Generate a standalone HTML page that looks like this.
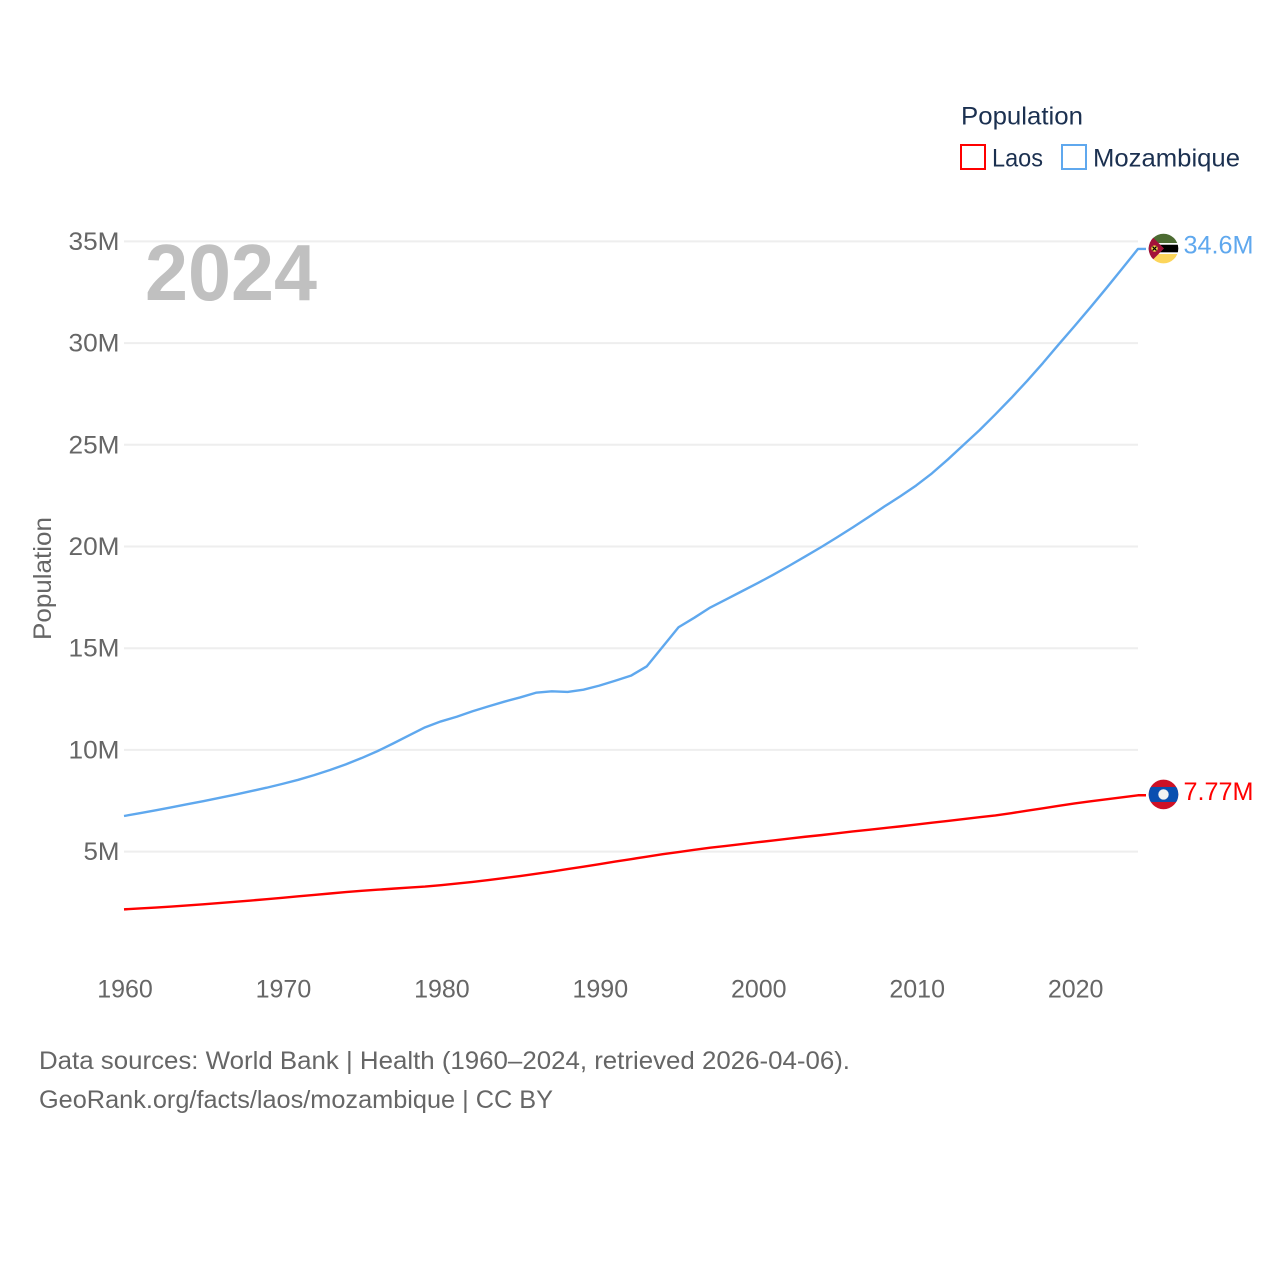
<!DOCTYPE html>
<html lang="en">
<head>
<meta charset="utf-8">
<title>Population: Laos and Mozambique</title>
<style>
html,body{margin:0;padding:0;background:#fff;}
svg{display:block;font-family:"Liberation Sans",sans-serif;}
</style>
</head>
<body>
<svg id="chart" xmlns="http://www.w3.org/2000/svg" width="1280" height="1280" viewBox="0 0 1280 1280">
  <rect x="0" y="0" width="1280" height="1280" fill="#ffffff"/>
  <g id="grid"></g>
  <g id="y-ticks"></g>
  <g id="x-ticks"></g>
  <text x="145" y="300" font-size="80" font-weight="700" fill="#c0c0c0" textLength="172" lengthAdjust="spacingAndGlyphs">2024</text>
  <text transform="translate(51,640) rotate(-90)" font-size="25" fill="#666666" textLength="123" lengthAdjust="spacingAndGlyphs">Population</text>
  <g id="series"></g>
  <g id="end-markers"></g>

  <g>
    <text x="961" y="124.5" font-size="25" fill="#1b3050" textLength="122" lengthAdjust="spacingAndGlyphs">Population</text>
    <g>
      <rect x="961" y="145" width="24" height="24" fill="none" stroke="#ff0000" stroke-width="2"/>
      <text x="992" y="166.5" font-size="25" fill="#1b3050" textLength="51" lengthAdjust="spacingAndGlyphs">Laos</text>
    </g>
    <g>
      <rect x="1062" y="145" width="24" height="24" fill="none" stroke="#5fa8ee" stroke-width="2"/>
      <text x="1093" y="166.5" font-size="25" fill="#1b3050" textLength="147" lengthAdjust="spacingAndGlyphs">Mozambique</text>
    </g>
  </g>

  <g>
    <text x="39" y="1069" font-size="25" fill="#666666" textLength="811" lengthAdjust="spacingAndGlyphs">Data sources: World Bank | Health (1960–2024, retrieved 2026-04-06).</text>
    <text x="39" y="1108" font-size="25" fill="#666666" textLength="514" lengthAdjust="spacingAndGlyphs">GeoRank.org/facts/laos/mozambique | CC BY</text>
  </g>
</svg>
<script>
const firstYear = 1960;
const xTickYears = [1960, 1970, 1980, 1990, 2000, 2010, 2020];
const yTickValues = [5, 10, 15, 20, 25, 30, 35];
const laosValues = [2.16, 2.205, 2.25, 2.30, 2.355, 2.41, 2.47, 2.53, 2.595, 2.66,
  2.73, 2.80, 2.87, 2.94, 3.01, 3.07, 3.125, 3.18, 3.23, 3.28,
  3.35, 3.43, 3.51, 3.60, 3.70, 3.80, 3.91, 4.02, 4.14, 4.26,
  4.38, 4.51, 4.63, 4.75, 4.87, 4.98, 5.09, 5.19, 5.28, 5.37,
  5.46, 5.55, 5.64, 5.73, 5.81, 5.90, 5.99, 6.07, 6.16, 6.24,
  6.33, 6.42, 6.51, 6.60, 6.69, 6.78, 6.89, 7.01, 7.13, 7.25,
  7.37, 7.47, 7.57, 7.67, 7.77];
const mozambiqueValues = [6.75, 6.89, 7.03, 7.18, 7.33, 7.48, 7.64, 7.80, 7.97, 8.14,
  8.33, 8.53, 8.76, 9.01, 9.29, 9.60, 9.94, 10.32, 10.72, 11.11,
  11.40, 11.63, 11.90, 12.14, 12.37, 12.58, 12.81, 12.88, 12.85, 12.96,
  13.16, 13.40, 13.65, 14.11, 15.07, 16.03, 16.50, 17.00, 17.40, 17.80,
  18.20, 18.62, 19.06, 19.51, 19.97, 20.45, 20.94, 21.45, 21.97, 22.47,
  23.00, 23.60, 24.28, 25.00, 25.72, 26.50, 27.30, 28.14, 29.02, 29.94,
  30.84, 31.76, 32.70, 33.66, 34.63];

const NS = 'http://www.w3.org/2000/svg';
const plotLeft = 124, plotRight = 1138, lastYear = 2024;
const zeroY = 953.3, pxPerMillion = 20.34;
function xScale(year) { return plotLeft + (year - firstYear) * (plotRight - plotLeft) / (lastYear - firstYear); }
function yScale(value) { return zeroY - value * pxPerMillion; }
function svgEl(tag, attrs, parent) {
  const el = document.createElementNS(NS, tag);
  for (const k in attrs) el.setAttribute(k, attrs[k]);
  parent.appendChild(el);
  return el;
}

const grid = document.getElementById('grid');
const yTicks = document.getElementById('y-ticks');
yTickValues.forEach(function (v) {
  const line = svgEl('line', { x1: plotLeft, x2: plotRight, y1: yScale(v), y2: yScale(v), stroke: '#eeeeee', 'stroke-width': 2 }, grid);
  
  
  const label = svgEl('text', { x: 119.5, y: yScale(v) + 8.5, 'text-anchor': 'end', 'font-size': 25, fill: '#666666' }, yTicks);
  label.textContent = v + 'M';
  label.setAttribute('textLength', v < 10 ? 36 : 51);
  label.setAttribute('lengthAdjust', 'spacingAndGlyphs');
  
  
});

const xTicks = document.getElementById('x-ticks');
xTickYears.forEach(function (y) {
  const label = svgEl('text', { x: xScale(y) + 1, y: 997.5, 'text-anchor': 'middle', 'font-size': 25, fill: '#666666' }, xTicks);
  label.textContent = String(y);
  
  
});

const seriesGroup = document.getElementById('series');
const markerGroup = document.getElementById('end-markers');

function drawSeries(values, color, slug) {
  let d = '';
  values.forEach(function (v, i) {
    d += (i ? 'L' : 'M') + xScale(firstYear + i).toFixed(2) + ' ' + yScale(v).toFixed(2);
  });
  const lastY = yScale(values[values.length - 1]);
  d += 'L' + (plotRight + 8) + ' ' + lastY.toFixed(2);
  const path = svgEl('path', { d: d, fill: 'none', stroke: color, 'stroke-width': 2.4, 'stroke-linejoin': 'round' }, seriesGroup);
  
  
  const label = svgEl('text', { x: 1253.5, y: lastY + 4.8, 'text-anchor': 'end', 'font-size': 25, fill: color, textLength: 70, lengthAdjust: 'spacingAndGlyphs' }, markerGroup);
  label.textContent = values[values.length - 1].toPrecision(3) + 'M';
  
  
  return lastY;
}

let clipCount = 0;
function flagGroup(cy, slug) {
  const id = 'flag-clip-' + (clipCount++);
  const clip = svgEl('clipPath', { id: id }, markerGroup);
  svgEl('circle', { cx: 1163.5, cy: cy, r: 14.8 }, clip);
  const g = svgEl('g', { 'clip-path': 'url(#' + id + ')' }, markerGroup);
  
  
  return g;
}

const laosY = drawSeries(laosValues, '#ff0000', 'laos');
const mozY = drawSeries(mozambiqueValues, '#5fa8ee', 'mozambique');

const laosFlag = flagGroup(laosY - 0.8, 'laos');
const lc = laosY - 0.8;
svgEl('rect', { x: 1148, y: lc - 16, width: 32, height: 32, fill: '#ce1126' }, laosFlag);
svgEl('rect', { x: 1148, y: lc - 7.5, width: 32, height: 15, fill: '#0a4fb0' }, laosFlag);
svgEl('circle', { cx: 1163.5, cy: lc, r: 5.2, fill: '#f2f2f2' }, laosFlag);

const mozFlag = flagGroup(mozY - 0.4, 'mozambique');
const mc = mozY - 0.4;
svgEl('rect', { x: 1148, y: mc - 16, width: 32, height: 32, fill: '#ffffff' }, mozFlag);
svgEl('rect', { x: 1148, y: mc - 16, width: 32, height: 10.5, fill: '#4c6b32' }, mozFlag);
svgEl('rect', { x: 1148, y: mc - 3.8, width: 32, height: 7.6, fill: '#000000' }, mozFlag);
svgEl('rect', { x: 1148, y: mc + 5.5, width: 32, height: 10.5, fill: '#fcd55a' }, mozFlag);
svgEl('polygon', { points: '1148,' + (mc - 16) + ' 1164,' + mc + ' 1148,' + (mc + 16), fill: '#a3123a' }, mozFlag);
svgEl('circle', { cx: 1154.5, cy: mc, r: 3.2, fill: '#f5d547' }, mozFlag);
svgEl('path', { d: 'M1152.5 ' + (mc - 2) + 'L1156.5 ' + (mc + 2) + 'M1156.5 ' + (mc - 2) + 'L1152.5 ' + (mc + 2), stroke: '#000000', 'stroke-width': 1.2, fill: 'none' }, mozFlag);
</script>
</body>
</html>
